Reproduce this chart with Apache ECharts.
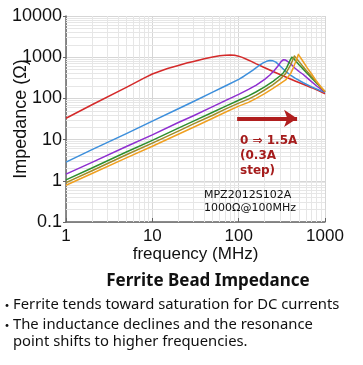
<!DOCTYPE html>
<html><head><meta charset="utf-8">
<script src="https://cdn.jsdelivr.net/npm/echarts@6/dist/echarts.min.js"></script>
<style>html,body{margin:0;padding:0;background:#fff}#c{width:363px;height:365px}</style>
</head><body><div id="c"></div>
<script>
// Frequency (MHz) and impedance (Ohm) per DC bias current (0 to 1.5 A, 0.3 A step)
const redF = [1,2,5,8,10,12,15,20,25,30,40,50,60,70,80,90,100,110,125,140,160,192,250,330,450,560,700,850,1000];
const redZ = [33,70,185,310,390,450,530,630,720,790,920,1010,1080,1120,1130,1110,1060,990,880,790,690,580,450,350,265,220,182,152,130];
const blueF = [1,2,5,10,20,30,50,70,100,115,130,145,160,175,190,210,230,250,270,300,340,390,450,560,700,850,1000];
const blueZ = [2.85,5.7,14,28,56,84,142,200,290,345,410,480,560,640,715,795,834,815,760,620,480,380,310,240,190,160,140];
const purpleF = [1,2,5,10,20,30,50,70,100,130,160,200,230,260,290,310,330,350,375,400,450,500,560,650,800,1000];
const purpleZ = [1.45,2.8,6.8,13,26,38,63,88,125,165,210,290,370,480,640,780,870,850,770,690,540,450,380,290,200,142];
const greenF = [1,2,5,10,20,30,50,70,100,130,160,200,250,300,330,360,390,412,435,460,500,600,700,800,900,1000];
const greenZ = [1.05,2.05,5,9.6,19,28,46,64,90,115,145,190,260,350,420,560,800,1000,930,800,655,440,315,235,182,145];
const oliveF = [1,2,5,10,20,30,50,70,100,130,160,200,250,300,350,400,425,442,465,500,600,700,800,900,1000];
const oliveZ = [0.9,1.75,4.3,8.2,16,24,39,55,77,96,120,160,215,290,400,650,880,1070,980,780,490,340,245,185,146];
const orangeF = [1,2,5,10,20,30,50,70,100,130,160,200,250,300,350,400,430,460,491,515,550,620,700,800,900,1000];
const orangeZ = [0.78,1.5,3.6,6.9,13.5,20,33,46,65,80,100,130,175,225,280,400,560,800,1170,1060,820,560,390,260,190,148];
const seriesColors = ['#d42a2a','#3d8fdc','#8f2fd0','#2f8f2f','#a08c28','#f0a020'];
const xDecades = [1,10,100];
const yDecades = [0.1,1,10,100,1000];
const arrowF = [96, 475];
const arrowZ = 32.7;

const zip = (f, z) => f.map((v, i) => [v, z[i]]);
const minorX = [], minorY = [];
xDecades.forEach(d => { for (let k = 2; k <= 9; k++) minorX.push({xAxis: d * k}); });
yDecades.forEach(d => { for (let k = 2; k <= 9; k++) minorY.push({yAxis: +(d * k).toPrecision(3)}); });

const fmt = v => String(+(+v).toPrecision(6));
const narrow = "'Liberation Sans Narrow', 'Liberation Sans', Arial, sans-serif";
const chart = echarts.init(document.getElementById('c'), null, {renderer: 'canvas'});
const all = [[redF,redZ],[blueF,blueZ],[purpleF,purpleZ],[greenF,greenZ],[oliveF,oliveZ],[orangeF,orangeZ]];
const lineSeries = all.map((p, i) => ({
  type: 'line', data: zip(p[0], p[1]), showSymbol: false, smooth: false,
  lineStyle: {color: seriesColors[i], width: 1.5, join: 'round'}, itemStyle: {color: seriesColors[i]}, zlevel: 1, z: 3
}));
chart.setOption({
  animation: false,
  backgroundColor: '#fff',
  grid: {left: 66, top: 16, width: 259, height: 206, containLabel: false, outerBoundsMode: 'none'},
  xAxis: {
    type: 'log', logBase: 10, min: 1, max: 1000,
    name: 'frequency (MHz)', nameLocation: 'middle', nameGap: 24, nameMoveOverlap: false,
    nameTextStyle: {fontFamily: narrow, fontSize: 17, color: '#111'},
    axisLine: {show: true, lineStyle: {color: '#666', width: 1.5}},
    axisTick: {show: true, inside: true, length: 4, lineStyle: {color: '#666'}},
    axisLabel: {fontFamily: narrow, fontSize: 17, color: '#111', margin: 6, formatter: fmt},
    splitLine: {show: true, lineStyle: {color: '#d6d6d6'}}
  },
  yAxis: {
    type: 'log', logBase: 10, min: 0.1, max: 10000,
    name: 'Impedance (Ω)', nameLocation: 'middle', nameGap: 36, nameRotate: 90, nameMoveOverlap: false,
    nameTextStyle: {fontFamily: narrow, fontSize: 18, color: '#111'},
    axisLine: {show: true, lineStyle: {color: '#666', width: 1.5}},
    axisTick: {show: true, inside: false, length: 3, lineStyle: {color: '#666'}},
    axisLabel: {fontFamily: narrow, fontSize: 18, color: '#111', margin: 4, formatter: fmt},
    splitLine: {show: true, lineStyle: {color: '#d6d6d6'}}
  },
  series: [
    {type: 'line', data: [], silent: true, z: 1,
      markLine: {silent: true, symbol: 'none', animation: false, label: {show: false},
        lineStyle: {color: '#e6e6e6', type: 'solid', width: 1},
        emphasis: {disabled: true}, data: minorX.concat(minorY)}},
    ...lineSeries,
    {type: 'line', data: [], silent: true, zlevel: 1, z: 5,
      markLine: {silent: true, symbol: ['none', 'arrow'], symbolSize: [13, 13], animation: false,
        label: {show: false}, emphasis: {disabled: true},
        lineStyle: {color: '#b01e1e', type: 'solid', width: 4},
        data: [[{coord: [arrowF[0], arrowZ]}, {coord: [arrowF[1], arrowZ]}]]}}
  ],
  graphic: [
    {type: 'text', zlevel: 1, z: 100, x: 240, y: 133, style: {text: '0 ⇒ 1.5A\n(0.3A\nstep)', fill: '#a51c1c',
      font: "bold 12px 'DejaVu Sans', sans-serif", lineHeight: 15}},
    {type: 'text', zlevel: 1, z: 100, x: 204, y: 189, style: {text: 'MPZ2012S102A\n1000Ω@100MHz', fill: '#111',
      font: "11px 'DejaVu Sans', sans-serif", lineHeight: 13}},
    {type: 'text', zlevel: 1, x: 208, y: 281, style: {text: 'Ferrite Bead Impedance', fill: '#111',
      font: "bold 17px 'Noto Sans', sans-serif", align: 'center', verticalAlign: 'middle'}},
    {type: 'text', zlevel: 1, x: 0, y: 305, style: {text: '・', fill: '#111', font: "14px 'Noto Sans CJK JP', sans-serif", verticalAlign: 'middle'}},
    {type: 'text', zlevel: 1, x: 0, y: 325, style: {text: '・', fill: '#111', font: "14px 'Noto Sans CJK JP', sans-serif", verticalAlign: 'middle'}},
    {type: 'text', zlevel: 1, x: 13, y: 305, style: {text: 'Ferrite tends toward saturation for DC currents', fill: '#111',
      font: "14.8px 'Noto Sans', sans-serif", verticalAlign: 'middle'}},
    {type: 'text', zlevel: 1, x: 13, y: 325, style: {text: 'The inductance declines and the resonance', fill: '#111',
      font: "14.8px 'Noto Sans', sans-serif", verticalAlign: 'middle'}},
    {type: 'text', zlevel: 1, x: 13, y: 342, style: {text: 'point shifts to higher frequencies.', fill: '#111',
      font: "14.8px 'Noto Sans', sans-serif", verticalAlign: 'middle'}}
  ]
});
</script></body></html>
